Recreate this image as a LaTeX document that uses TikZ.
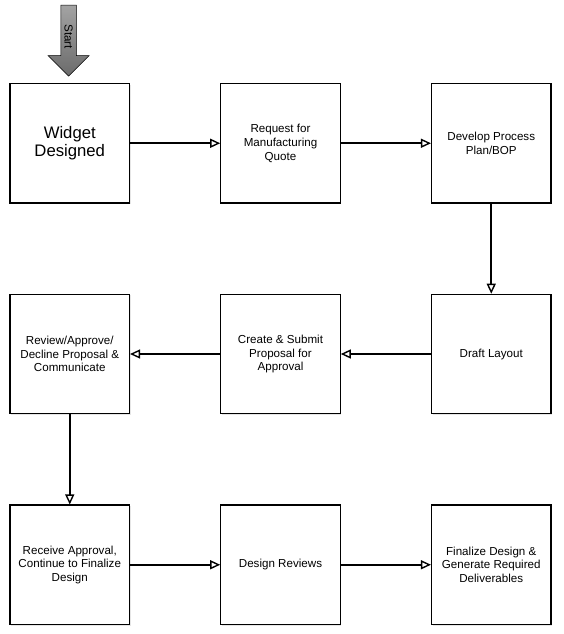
\documentclass[tikz,border=0pt]{standalone}
\usepackage{fontspec}
\setmainfont{Liberation Sans}
\usetikzlibrary{shapes.arrows, arrows.meta, shadows}
\tikzstyle{stepbox} = [rectangle, minimum width=119.5pt, minimum height=119.5pt, text centered, align=center, draw=black, line width=1.1pt, fill=white, drop shadow={opacity=0.2, shadow xshift=1pt, shadow yshift=-1pt}, font=\fontsize{11.6}{13.7}\selectfont]
\tikzstyle{startarrow} = [single arrow, rotate=-90, draw=black, line width=0.5pt, top color=black!36, bottom color=black!58, minimum height=71pt, minimum width=41pt, single arrow head extend=10.5pt, inner sep=2pt, font=\fontsize{11.6}{13.7}\selectfont]
\tikzstyle{arrow} = [line width=1.7pt, -{Triangle[open, length=10pt, width=9pt, line width=1.4pt]}]

\begin{document}
\begin{tikzpicture}[x=1pt, y=1pt]
		\useasboundingbox (0,0) rectangle (563,-634);
		\node (widget) [stepbox, font=\fontsize{16.7}{18.7}\selectfont] at (69.75,-143.25) {Widget\\Designed};
		\node (quote) [stepbox, right of = widget, xshift = 182.3pt] {Request for\\Manufacturing\\Quote};
		\node (plan) [stepbox, right of = quote, xshift = 182.3pt] {Develop Process\\Plan/BOP};
		\node (layout) [stepbox, below of = plan, yshift = -182.3pt] {Draft Layout};
		\node (proposal) [stepbox, left of = layout, xshift = -182.3pt] {Create \& Submit\\Proposal for\\Approval};
		\node (review) [stepbox, left of = proposal, xshift = -182.3pt] {Review/Approve/\\Decline Proposal \&\\Communicate};
		\node (approval) [stepbox, below of = review, yshift = -182.3pt] {Receive Approval,\\Continue to Finalize\\Design};
		\node (designrev) [stepbox, right of = approval, xshift = 182.3pt] {Design Reviews};
		\node (finalize) [stepbox, right of = designrev, xshift = 182.3pt] {Finalize Design \&\\Generate Required\\Deliverables};
		\node (start) [startarrow, anchor=tip] at ([xshift=-1.2pt, yshift=6.5pt]widget.north) {Start};
		\draw [arrow] (widget) -- (quote);
		\draw [arrow] (quote) -- (plan);
		\draw [arrow] (plan) -- (layout);
		\draw [arrow] (layout) -- (proposal);
		\draw [arrow] (proposal) -- (review);
		\draw [arrow] (review) -- (approval);
		\draw [arrow] (approval) -- (designrev);
		\draw [arrow] (designrev) -- (finalize);
	\end{tikzpicture}
\end{document}
